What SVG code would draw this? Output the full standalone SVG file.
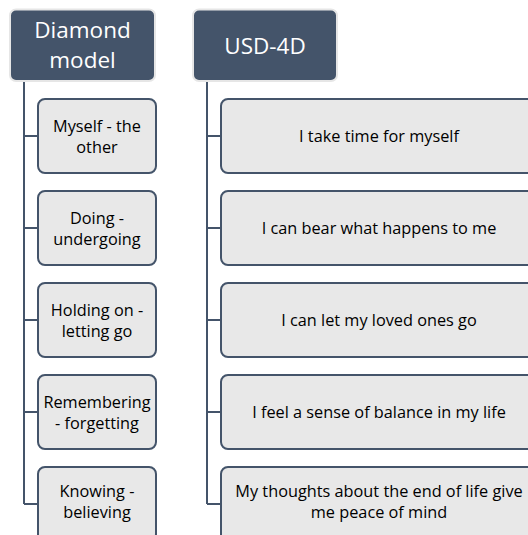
<svg xmlns="http://www.w3.org/2000/svg" width="528" height="535" viewBox="0 0 528 535">
  <style>
    .head rect { fill: #44546A; stroke: #E6E6E6; stroke-width: 2; }
    .head text { fill: #FFFFFF; font-family: "Open Sans", "Liberation Sans", sans-serif; font-size: 22.5px; text-anchor: middle; }
    .item rect { fill: #E8E8E8; stroke: #44546A; stroke-width: 2; }
    .item text { fill: #000000; font-family: "Open Sans", "Liberation Sans", sans-serif; font-size: 16.3px; text-anchor: middle; }
    .conn path { fill: none; stroke: #44546A; stroke-width: 2; }
  </style>

  <!-- connectors -->
  <g id="connectors" class="conn">
    <path d="M24 81 V504 M24 136 H38 M24 228 H38 M24 320 H38 M24 412 H38 M24 504 H38"/>
    <path d="M207 81 V504 M207 136 H221 M207 228 H221 M207 320 H221 M207 412 H221 M207 504 H221"/>
  </g>

  <!-- left column -->
  <g id="diamond-model" class="head">
    <rect x="10" y="9.5" width="145" height="71.5" rx="6"/>
    <text x="82.5" y="38">Diamond</text>
    <text x="82.5" y="68">model</text>
  </g>
  <g id="myself-other" class="item">
    <rect x="38" y="99" width="118" height="74" rx="7"/>
    <text x="97" y="132">Myself - the</text>
    <text x="97" y="152.5">other</text>
  </g>
  <g id="doing-undergoing" class="item">
    <rect x="38" y="191" width="118" height="74" rx="7"/>
    <text x="97" y="224">Doing -</text>
    <text x="97" y="244.5">undergoing</text>
  </g>
  <g id="holding-letting" class="item">
    <rect x="38" y="283" width="118" height="74" rx="7"/>
    <text x="97" y="316">Holding on -</text>
    <text x="97" y="336.5">letting go</text>
  </g>
  <g id="remembering-forgetting" class="item">
    <rect x="38" y="375" width="118" height="74" rx="7"/>
    <text x="97" y="408">Remembering</text>
    <text x="97" y="428.5">- forgetting</text>
  </g>
  <g id="knowing-believing" class="item">
    <rect x="38" y="467" width="118" height="74" rx="7"/>
    <text x="97" y="497">Knowing -</text>
    <text x="97" y="518">believing</text>
  </g>

  <!-- right column -->
  <g id="usd-4d" class="head">
    <rect x="193" y="9.5" width="144" height="71.5" rx="6"/>
    <text x="265" y="53.5">USD-4D</text>
  </g>
  <g id="time-for-myself" class="item">
    <rect x="221" y="99" width="316" height="74" rx="7"/>
    <text x="379" y="142">I take time for myself</text>
  </g>
  <g id="bear-what-happens" class="item">
    <rect x="221" y="191" width="316" height="74" rx="7"/>
    <text x="379" y="234">I can bear what happens to me</text>
  </g>
  <g id="let-loved-ones-go" class="item">
    <rect x="221" y="283" width="316" height="74" rx="7"/>
    <text x="379" y="326">I can let my loved ones go</text>
  </g>
  <g id="sense-of-balance" class="item">
    <rect x="221" y="375" width="316" height="74" rx="7"/>
    <text x="379" y="418">I feel a sense of balance in my life</text>
  </g>
  <g id="end-of-life" class="item">
    <rect x="221" y="467" width="316" height="74" rx="7"/>
    <text x="379" y="497">My thoughts about the end of life give</text>
    <text x="379" y="518">me peace of mind</text>
  </g>
</svg>
